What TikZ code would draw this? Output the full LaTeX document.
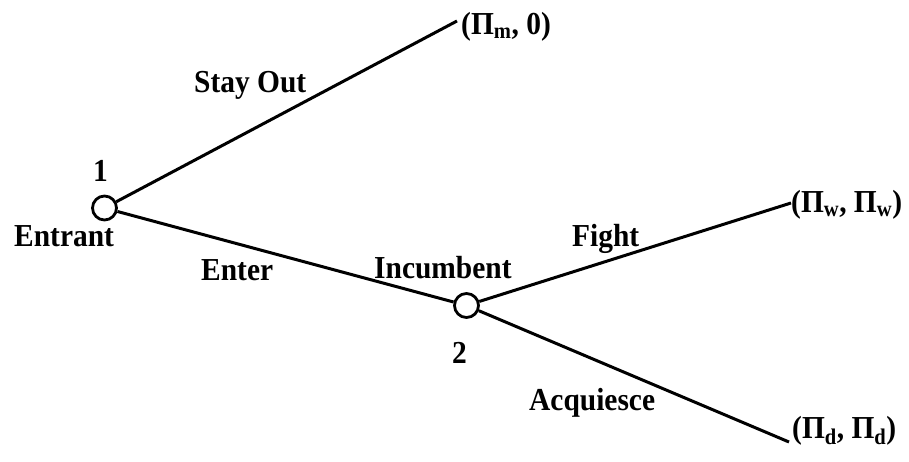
\documentclass[tikz,border=0pt]{standalone}
\usepackage{fontspec}
\setmainfont{Liberation Serif}
\newfontfamily\lblfont[FakeStretch=0.92]{Liberation Serif}
\begin{document}
\begin{tikzpicture}[x=1pt,y=-1pt,
  lbl/.style={font=\lblfont\fontsize{32}{34}\selectfont\bfseries, inner sep=0pt, anchor=base west},
  game/.style={circle, draw, line width=2.8pt, minimum size=24pt, inner sep=0pt, fill=white},
  edge/.style={line width=3pt}]
\useasboundingbox (0,0) rectangle (909,462);
\node[game] (n1) at (104.5,208) {};
\node[game] (n2) at (466.5,305.5) {};
\coordinate (t1) at (457,21);
\coordinate (t2) at (791,203);
\coordinate (t3) at (789,442);
\node[lbl] (p1) at (461,35) {(Π\textsubscript{m}, 0)};
\node[lbl] (p2) at (791,213) {(Π\textsubscript{w}, Π\textsubscript{w})};
\node[lbl] (p3) at (792,438) {(Π\textsubscript{d}, Π\textsubscript{d})};
\draw[edge] (n1) -- (t1);
\draw[edge] (n1) -- (n2);
\draw[edge] (n2) -- (t2);
\draw[edge] (n2) -- (t3);
\node[lbl] (l1) at (93,182) {1};
\node[lbl] (le) at (14,247) {Entrant};
\node[lbl] (lso) at (194,93) {Stay Out};
\node[lbl] (len) at (201,280) {Enter};
\node[lbl] (linc) at (374,278) {Incumbent};
\node[lbl] (lf) at (572,247) {Fight};
\node[lbl] (l2) at (452,363) {2};
\node[lbl] (la) at (529,410) {Acquiesce};
\end{tikzpicture}
\end{document}
